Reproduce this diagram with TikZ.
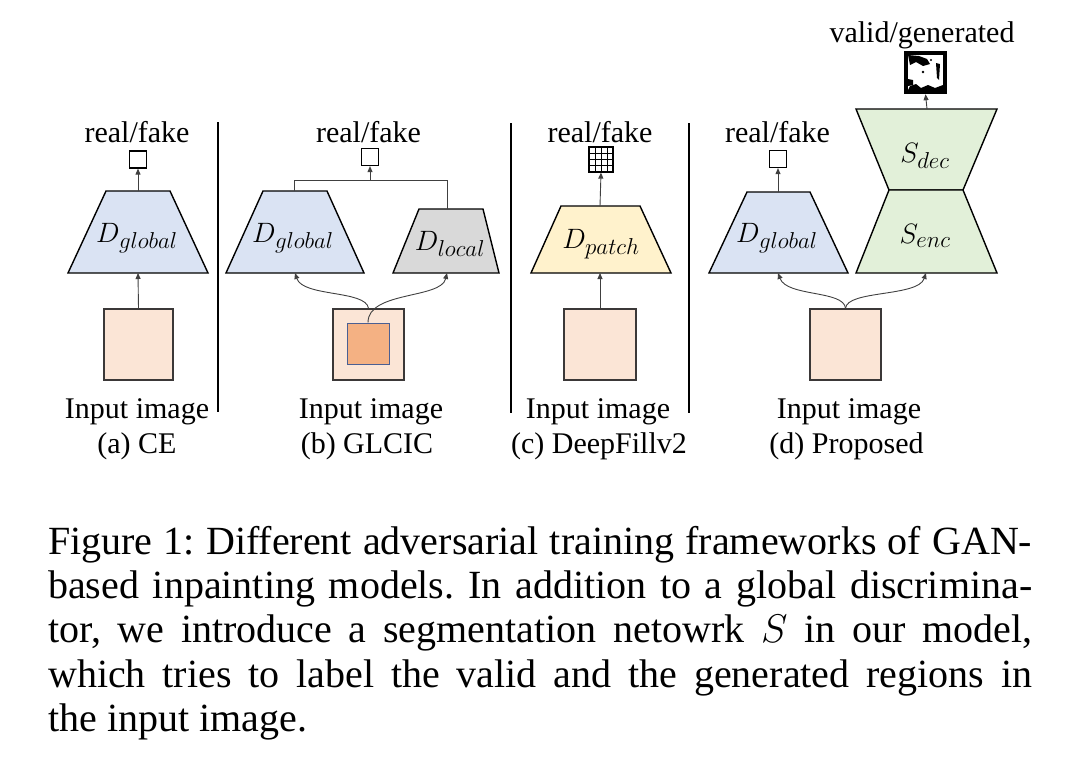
\RequirePackage{fix-cm}
\documentclass[tikz,border=0pt]{standalone}
\usepackage{fontspec}
\setmainfont{Liberation Serif}
\usetikzlibrary{arrows.meta}
\DeclareMathSizes{28}{28}{23}{17}
\definecolor{dblue}{HTML}{DAE3F3}
\definecolor{dgray}{HTML}{D9D9D9}
\definecolor{dyellow}{HTML}{FFF2CC}
\definecolor{sgreen}{HTML}{E2F0D9}
\definecolor{peach}{HTML}{FBE5D6}
\definecolor{cropfill}{HTML}{F4B183}
\definecolor{cropline}{HTML}{4A5F93}
\definecolor{boxgray}{HTML}{3B3838}
\definecolor{linegray}{HTML}{404040}
\begin{document}
\begin{tikzpicture}[x=1pt,y=-1pt,
	lbl/.style={font=\fontsize{30}{36}\selectfont, inner sep=0},
	sym/.style={font=\fontsize{28}{34}\selectfont, inner sep=0},
	disc/.style={draw=black, line width=1.4pt, line join=miter},
	img/.style={draw=boxgray, line width=1.4pt, fill=peach, inner sep=0},
	outbox/.style={draw=black, line width=1.2pt, fill=white, inner sep=0, minimum size=17},
	wire/.style={draw=linegray, line width=0.9pt},
	conn/.style={wire, -{Triangle[length=6pt,width=5pt]}},
	sep/.style={draw=black, line width=1.2pt}]
	\useasboundingbox (0,0) rectangle (1079,769);
	% (a) CE
	\filldraw[disc, fill=dblue] (68,273) -- (106,191) -- (170,191) -- (208,273) -- cycle;
	\node[sym, anchor=base] (dA) at (137,242) {$D_{global}$};
	\coordinate (dA-t) at (138,191);
	\coordinate (dA-b) at (138,273);
	\node[img, minimum width=69, minimum height=71] (inA) at (138.5,344.5) {};
	\node[outbox] (oA) at (138,159.5) {};
	\node[lbl, anchor=base] (rfA) at (137,142) {real/fake};
	\draw[conn] (inA.north) -- (dA-b);
	\draw[conn] (dA-t) -- (oA.south);
	\node[lbl, anchor=base] (inlA) at (137,418) {Input image};
	\node[lbl, anchor=base] (capA) at (137,453) {(a) CE};
	\draw[sep] (218,122) -- (218,412);
	% (b) GLCIC
	\filldraw[disc, fill=dblue] (226,273) -- (263,191) -- (327,191) -- (364,273) -- cycle;
	\filldraw[disc, fill=dgray] (393,273) -- (419,209) -- (483,209) -- (499,273) -- cycle;
	\node[sym, anchor=base] (dB) at (293,242) {$D_{global}$};
	\node[sym, anchor=base] (dL) at (450,250) {$D_{local}$};
	\coordinate (dB-t) at (294,191);
	\coordinate (dB-b) at (295,273);
	\coordinate (dL-t) at (447,209);
	\coordinate (dL-b) at (447,273);
	\coordinate (jB) at (370,180);
	\node[outbox] (oB) at (370,157) {};
	\node[lbl, anchor=base] (rfB) at (368.5,142) {real/fake};
	\draw[wire] (dB-t) -- (294,180) -- (447,180) -- (dL-t);
	\draw[conn] (jB) -- (oB.south);
	\node[img, minimum width=71, minimum height=71] (inB) at (368.5,344.5) {};
	\node[draw=cropline, line width=1pt, fill=cropfill, inner sep=0, minimum width=42, minimum height=41] (cropB) at (368,343.5) {};
	\draw[conn] (inB.north) .. controls (366,290) and (303,297) .. (dB-b);
	\draw[conn] (cropB.north) .. controls (368,291) and (441,299) .. (dL-b);
	\node[lbl, anchor=base] (inlB) at (371,418) {Input image};
	\node[lbl, anchor=base] (capB) at (367,453) {(b) GLCIC};
	\draw[sep] (511,123) -- (511,413);
	% (c) DeepFillv2
	\filldraw[disc, fill=dyellow] (531,273) -- (561,206) -- (640,206) -- (671,273) -- cycle;
	\node[sym, anchor=base] (dP) at (601,248) {$D_{patch}$};
	\coordinate (dP-t) at (600,206);
	\coordinate (dP-b) at (600,273);
	\node[draw=black, line width=1.2pt, fill=white, inner sep=0, minimum width=24, minimum height=25] (oC) at (601,159.5) {};
	\foreach \gx in {595,601,607} \draw[line width=0.9pt] (\gx,147) -- (\gx,172);
	\foreach \gy in {153.25,159.5,165.75} \draw[line width=0.9pt] (589,\gy) -- (613,\gy);
	\node[lbl, anchor=base] (rfC) at (600,142) {real/fake};
	\node[img, minimum width=72, minimum height=71] (inC) at (600,344.5) {};
	\draw[conn] (inC.north) -- (dP-b);
	\draw[conn] (dP-t) -- (oC.south);
	\node[lbl, anchor=base] (inlC) at (598,418) {Input image};
	\node[lbl, anchor=base] (capC) at (599,453) {(c) DeepFillv2};
	\draw[sep] (689,123) -- (689,413);
	% (d) Proposed
	\filldraw[disc, fill=dblue] (709,273) -- (747,192) -- (810,192) -- (848,273) -- cycle;
	\filldraw[disc, fill=sgreen] (856,109) -- (997,109) -- (963,190) -- (889,190) -- cycle;
	\filldraw[disc, fill=sgreen] (889,190) -- (963,190) -- (997,273) -- (856,273) -- cycle;
	\node[sym, anchor=base] (dD) at (777,242) {$D_{global}$};
	\node[sym, anchor=base] (sDec) at (925,162) {$S_{dec}$};
	\node[sym, anchor=base] (sEnc) at (925,243) {$S_{enc}$};
	\coordinate (dD-t) at (778,192);
	\coordinate (dD-b) at (778,273);
	\coordinate (s-t) at (927,109);
	\coordinate (s-b) at (926,273);
	\node[outbox] (oD) at (778,159) {};
	\node[lbl, anchor=base] (rfD) at (777.5,142) {real/fake};
	\node[fill=black, inner sep=0, minimum size=43] (mask) at (925.5,72.5) {};
	\fill[white] (908,55) rectangle (943,90);
	\fill[black] (908,55) -- (919,56) -- (927,59) -- (930,64) -- (923,66) -- (916,62) -- (910,65) -- cycle;
	\fill[black] (936,63) -- (940,64) -- (939,80) -- (937,78) -- cycle;
	\fill[black] (908,79) -- (913,80) -- (913,85) -- (908,86) -- cycle;
	\fill[black] (908,90) -- (910,86) -- (916,84) -- (921,88) -- (928,85) -- (935,88) -- (943,85) -- (943,90) -- cycle;
	\fill[black] (923,72) circle (1.3);
	\fill[black] (931,60) circle (1.2);
	\node[lbl, anchor=base] (vgD) at (922,42) {valid/generated};
	\draw[conn] (dD-t) -- (oD.south);
	\draw[conn] (s-t) -- (mask.south);
	\node[img, minimum width=71, minimum height=71] (inD) at (845.5,344.5) {};
	\draw[conn] (inD.north) .. controls (844,290) and (787,297) .. (dD-b);
	\draw[conn] (inD.north) .. controls (847,290) and (918,297) .. (s-b);
	\node[lbl, anchor=base] (inlD) at (849,418) {Input image};
	\node[lbl, anchor=base] (capD) at (846.5,453) {(d) Proposed};
	% caption
	\node[anchor=north west, inner sep=0, align=left, font=\fontsize{40}{44.25}\selectfont\frenchspacing] (caption) at (48,526)
		{\makebox[984pt][s]{Figure 1: Different adversarial training frameworks of GAN-}\\
		\makebox[984pt][s]{based inpainting models. In addition to a global discrimina-}\\
		\makebox[984pt][s]{tor, we introduce a segmentation netowrk $S$ in our model,}\\
		\makebox[984pt][s]{which tries to label the valid and the generated regions in}\\
		the input image.};
\end{tikzpicture}
\end{document}
